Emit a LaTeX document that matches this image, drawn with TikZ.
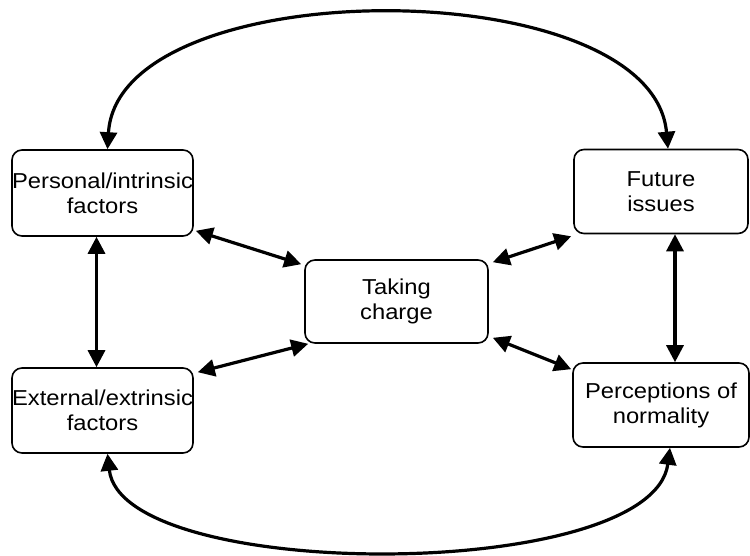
\documentclass[tikz,border=0pt]{standalone}
\usepackage{fontspec}
\setmainfont{Liberation Sans}[FakeStretch=1.1]
\usetikzlibrary{arrows.meta, positioning}

\begin{document}
\begin{tikzpicture}[x=0.5pt, y=-0.5pt, >={Triangle[length=8.5pt, width=8.5pt]},
        box/.style={draw, line width=0.8pt, rounded corners=5pt, align=center,
            inner sep=0pt, font=\fontsize{10.8}{12.5}\selectfont},
        link/.style={<->, line width=1.6pt}]
        % Frame
        \useasboundingbox (0,0) rectangle (750,556);

        % Themes
        \node[box, minimum width=90.5pt, minimum height=43pt] (pers) at (102.5,193) {Personal/intrinsic\\factors};
        \node[box, minimum width=90.5pt, minimum height=42.5pt] (ext) at (102.5,410.5) {External/extrinsic\\factors};
        \node[box, minimum width=91.5pt, minimum height=41.5pt] (take) at (396.5,301.5) {Taking\\charge};
        \node[box, minimum width=87pt, minimum height=42pt] (fut) at (661,191.5) {Future\\issues};
        \node[box, minimum width=88pt, minimum height=42pt] (perc) at (661,405) {Perceptions of\\normality};

        % Side links
        \draw[link] ([xshift=-3pt]pers.south) -- ([xshift=-3pt]ext.north);
        \draw[link] ([xshift=7pt]fut.south) -- ([xshift=7pt]perc.north);

        % Links to the centre
        \draw[link] ([shift={(1pt,3pt)}]pers.south east) -- ([shift={(-1.5pt,-2.5pt)}]take.north west);
        \draw[link] ([shift={(2pt,-2.5pt)}]ext.north east) -- ([shift={(2pt,0pt)}]take.south west);
        \draw[link] ([shift={(2pt,-1.5pt)}]take.north east) -- ([shift={(-1pt,-1pt)}]fut.south west);
        \draw[link] ([shift={(2pt,3pt)}]take.south east) -- ([shift={(-0.5pt,-3.5pt)}]perc.north west);

        % Outer arcs
        \draw[link] ([xshift=2.5pt]pers.north) .. controls (118,-30) and (652,-30) .. ([xshift=3.5pt]fut.north);
        \draw[link] ([xshift=2.5pt]ext.south) .. controls (122,583) and (652,583) .. ([xshift=4.5pt]perc.south);
    \end{tikzpicture}
\end{document}
